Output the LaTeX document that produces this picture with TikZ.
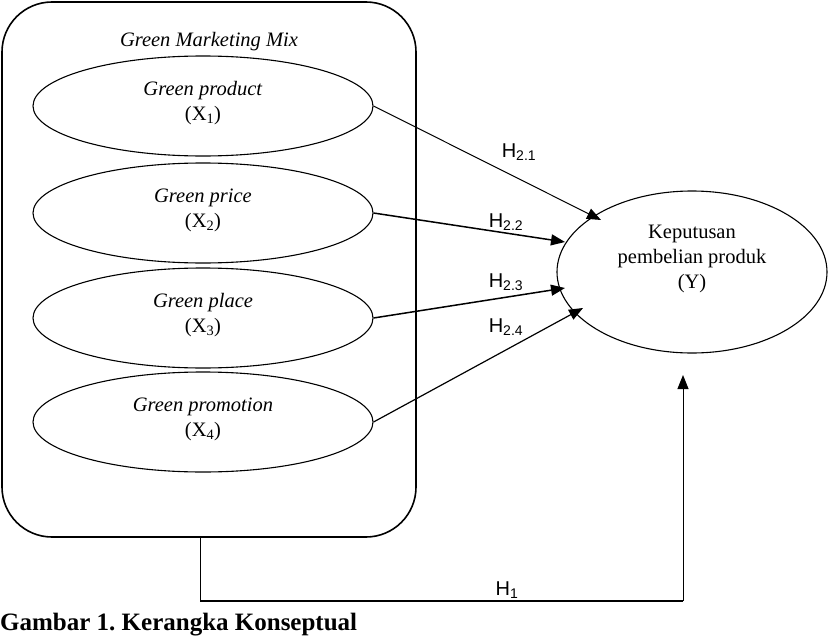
\documentclass[tikz,border=0pt]{standalone}
\usepackage{fontspec}
\setmainfont{Liberation Serif}
\newfontfamily\hfont{Liberation Sans}
\usetikzlibrary{arrows.meta,shapes.geometric}
\frenchspacing
\tikzset{
  ell/.style={draw, ellipse, line width=1.1pt, inner sep=0pt},
  xell/.style={ell, minimum width=340pt, minimum height=100pt},
  txt/.style={align=center, inner sep=0pt, font=\fontsize{20.5}{25}\selectfont},
  itxt/.style={txt, font=\fontsize{20.5}{25}\selectfont\itshape},
  hlab/.style={inner sep=0pt, font=\hfont\fontsize{20}{22}\selectfont},
  arr/.style={-{Triangle[length=14pt,width=11pt]}, line width=1pt},
  thickarr/.style={arr, line width=1.5pt}
}
\begin{document}
\begin{tikzpicture}[x=1pt,y=-1pt]
\useasboundingbox (0,0) rectangle (828,637);
% outer group box
\node[draw, line width=1.6pt, rounded corners=50pt, minimum width=414pt, minimum height=535pt, inner sep=0pt] (box) at (209,269.5) {};
\node[itxt] (title) at (209,42) {Green Marketing Mix};
% X ellipses
\node[xell] (e1) at (203,106) {};
\node[xell] (e2) at (203,213) {};
\node[xell] (e3) at (203,318) {};
\node[xell] (e4) at (203,422) {};
\node[txt] (t1) at (203,103) {\textit{Green product}\\(X\textsubscript{1})};
\node[txt] (t2) at (203,210) {\textit{Green price}\\(X\textsubscript{2})};
\node[txt] (t3) at (203,315) {\textit{Green place}\\(X\textsubscript{3})};
\node[txt] (t4) at (203,419) {\textit{Green promotion}\\(X\textsubscript{4})};
% Y ellipse
\node[ell, minimum width=270pt, minimum height=162pt] (y) at (692,272) {};
\node[txt] (ty) at (692,259) {Keputusan\\pembelian produk\\(Y)};
% arrow tips
\coordinate (a1) at (601,220);
\coordinate (a2) at (565,242);
\coordinate (a3) at (565,288);
\coordinate (a4) at (583,308);
\draw[arr] (e1.east) -- (a1);
\draw[thickarr] (e2.east) -- (a2);
\draw[thickarr] (e3.east) -- (a3);
\draw[arr, line width=1.2pt] (e4.east) -- (a4);
\node[hlab] (h21) at (519,152) {H\textsubscript{2.1}};
\node[hlab] (h22) at (506,222) {H\textsubscript{2.2}};
\node[hlab] (h23) at (506,282) {H\textsubscript{2.3}};
\node[hlab] (h24) at (506,327) {H\textsubscript{2.4}};
% H1 path
\coordinate (b1) at (200,601);
\coordinate (b2) at (683,601);
\coordinate (yt) at (683,375);
\draw[line width=1pt] (box.south -| b1) -- (b1);
\draw[line width=2pt] (b1) -- (b2);
\draw[arr] (b2) -- (yt);
\node[hlab] (h1) at (507,590) {H\textsubscript{1}};
% caption
\node[anchor=west, inner sep=0pt, font=\fontsize{25}{28}\selectfont\bfseries] (cap) at (0,625) {Gambar 1. Kerangka Konseptual};
\end{tikzpicture}
\end{document}
